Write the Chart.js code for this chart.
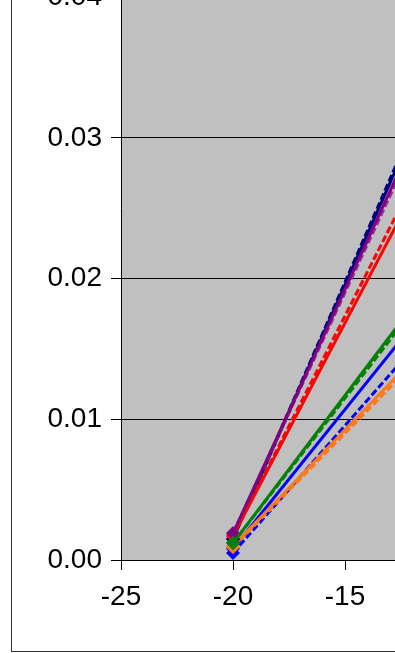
<!DOCTYPE html>
<html>
<head>
<meta charset="utf-8">
<script src="https://cdn.jsdelivr.net/npm/chart.js@4/dist/chart.umd.min.js"></script>
<style>
  html, body { margin: 0; padding: 0; overflow: hidden; background: #ffffff; width: 395px; height: 653px; }
  #frame { position: absolute; left: 11px; top: -10px; width: 400px; height: 661px;
           border-left: 1px solid #333; border-bottom: 1px solid #333; }
  #wrap { position: absolute; left: 0; top: -170px; width: 520px; height: 820px; }
</style>
</head>
<body>
<div id="frame"></div>
<div id="wrap"><canvas id="chart" width="520" height="820"></canvas></div>
<script>
// x positions of the two measured points of every run
const xValues = [-20, -10];

// measured series (y values at each x)
const navySolid    = [0.0015, 0.0376];
const navyDashed   = [0.0015, 0.0380];
const purpleSolid  = [0.0019, 0.0366];
const purpleDashed = [0.0019, 0.0361];
const redSolid     = [0.0017, 0.0320];
const redDashed    = [0.0017, 0.0330];
const greenSolid   = [0.0012, 0.0222];
const greenDashed  = [0.0012, 0.0218];
const blueSolid    = [0.0008, 0.0206];
const blueDashed   = [0.0005, 0.0186];
const orangeSolid  = [0.0010, 0.0175];
const orangeDashed = [0.0009, 0.0171];

// axis ticks
const xTicks = [-25, -20, -15, -10];
const yTicks = [0, 0.01, 0.02, 0.03, 0.04, 0.05];

function series(values, color, dashed) {
  return {
    data: xValues.map((x, i) => ({ x: x, y: values[i] })),
    borderColor: color,
    backgroundColor: color,
    borderWidth: 3,
    borderDash: dashed ? [7, 3] : [],
    pointStyle: 'rectRot',
    pointRadius: 7,
    pointBorderWidth: 0,
    pointBackgroundColor: color,
    tension: 0
  };
}

const plotBackground = {
  id: 'plotBackground',
  beforeDraw(chart) {
    const a = chart.chartArea, ctx = chart.ctx;
    ctx.save();
    ctx.fillStyle = '#c0c0c0';
    ctx.fillRect(a.left, a.top, a.right - a.left, a.bottom - a.top);
    ctx.restore();
  }
};

const tickFont = { family: 'Liberation Sans, Arial', size: 28 };

new Chart(document.getElementById('chart'), {
  type: 'line',
  data: {
    datasets: [
      series(greenSolid, '#008000', false),
      series(greenDashed, '#008000', true),
      series(purpleSolid, '#800080', false),
      series(purpleDashed, '#993399', true),
      series(redSolid, '#ff0000', false),
      series(redDashed, '#ff0000', true),
      series(navySolid, '#000080', false),
      series(navyDashed, '#000080', true),
      series(orangeSolid, '#ff7a1e', false),
      series(orangeDashed, '#ff7a1e', true),
      series(blueSolid, '#0000ff', false),
      series(blueDashed, '#0000ff', true)
    ]
  },
  options: {
    responsive: false,
    animation: false,
    devicePixelRatio: 1,
    layout: { padding: { top: 26.5, right: 63, left: 0, bottom: 0 } },
    plugins: { legend: { display: false }, tooltip: { enabled: false } },
    scales: {
      x: {
        type: 'linear',
        min: -25, max: -10,
        afterFit(s) { s.height = 90; s.paddingLeft = 0; s.paddingRight = 0; },
        afterBuildTicks(s) { s.ticks = xTicks.map(v => ({ value: v })); },
        ticks: { color: '#000', font: tickFont, padding: 10, maxRotation: 0, autoSkip: false,
                 callback: v => String(v) },
        grid: { drawOnChartArea: false, color: '#000', tickLength: 10, tickColor: '#000' },
        border: { display: true, color: '#000', width: 1 }
      },
      y: {
        type: 'linear',
        min: 0, max: 0.05,
        afterFit(s) { s.width = 121; s.paddingTop = 0; s.paddingBottom = 0; },
        afterBuildTicks(s) { s.ticks = yTicks.map(v => ({ value: v })); },
        ticks: { color: '#000', font: tickFont, padding: 9,
                 callback: v => v.toFixed(2) },
        grid: { color: '#000', lineWidth: 1, tickLength: 10, tickColor: '#000' },
        border: { display: true, color: '#000', width: 1 }
      }
    }
  },
  plugins: [plotBackground]
});
</script>
</body>
</html>
